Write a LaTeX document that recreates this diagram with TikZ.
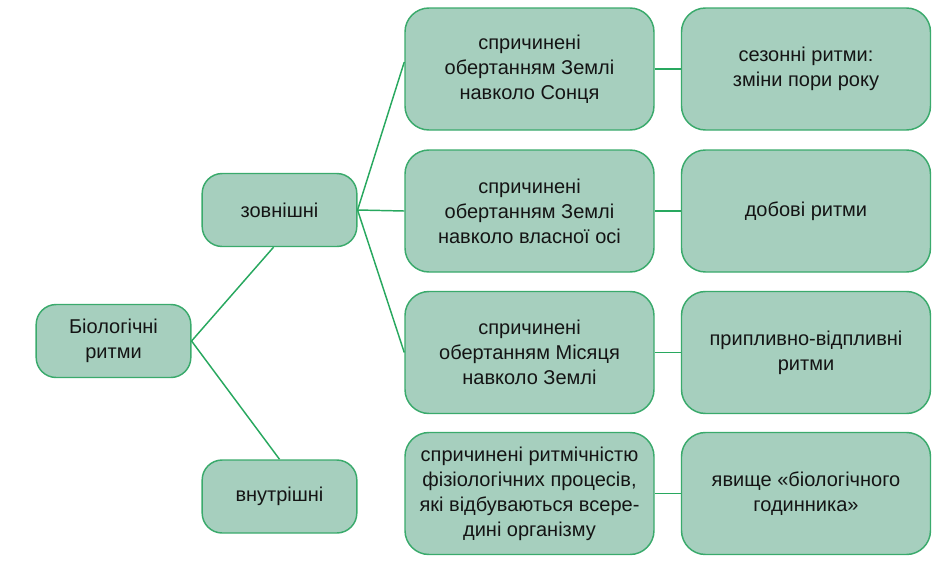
\documentclass[tikz,border=0pt]{standalone}
\usepackage{fontspec}
\setmainfont{Liberation Sans}
\usetikzlibrary{calc}
\definecolor{boxfill}{RGB}{166,207,190}
\definecolor{boxline}{RGB}{58,170,108}
\definecolor{conn}{RGB}{40,168,95}
\definecolor{txt}{RGB}{20,20,20}
\begin{document}
\begin{tikzpicture}[x=0.75pt,y=-0.75pt,
  base/.style={draw=boxline,fill=boxfill,line width=1.1pt,align=center,
    text=txt,inner sep=2pt,font=\fontsize{15}{18.75}\selectfont},
  smallbox/.style={base,rounded corners=15pt,minimum width=116pt,minimum height=54.75pt},
  bigbox/.style={base,rounded corners=18pt,minimum width=186.75pt,minimum height=91.5pt},
  link/.style={draw=conn,line width=1.1pt}]
\useasboundingbox (0,0) rectangle (940,565);
% connectors first (behind)
\coordinate (bioE) at (191,340);
\node[smallbox] (bio) at (113.5,341) {Біологічні\\ритми};
\node[smallbox] (zov) at (279.5,210) {зовнішні};
\node[smallbox] (vnu) at (279.5,496.5) {внутрішні};
\node[bigbox] (c1) at (529.5,69) {спричинені\\обертанням Землі\\навколо Сонця};
\node[bigbox] (c2) at (529.5,211) {спричинені\\обертанням Землі\\навколо власної осі};
\node[bigbox] (c3) at (529.5,352.5) {спричинені\\обертанням Місяця\\навколо Землі};
\node[bigbox] (c4) at (529.5,493.5) {спричинені ритмічністю\\фізіологічних процесів,\\які відбуваються всере-\\дині організму};
\node[bigbox] (d1) at (806,69) {сезонні ритми:\\зміни пори року};
\node[bigbox] (d2) at (806,211) {добові ритми};
\node[bigbox] (d3) at (806,352.5) {припливно-відпливні\\ритми};
\node[bigbox] (d4) at (806,493.5) {явище «біологічного\\годинника»};
\begin{scope}[on background layer/.style={}]
\end{scope}
\draw[link] (bio.east) -- ($(zov.south)+(-6,0)$);
\draw[link] (bio.east) -- (vnu.north);
\draw[link] (zov.east) -- ($(c1.west)+(0,-7)$);
\draw[link] (zov.east) -- (c2.west);
\draw[link] (zov.east) -- (c3.west);
\draw[link] (c1.east) -- (d1.west);
\draw[link] (c2.east) -- (d2.west);
\draw[link] (c3.east) -- (d3.west);
\draw[link] (c4.east) -- (d4.west);
\end{tikzpicture}
\end{document}
